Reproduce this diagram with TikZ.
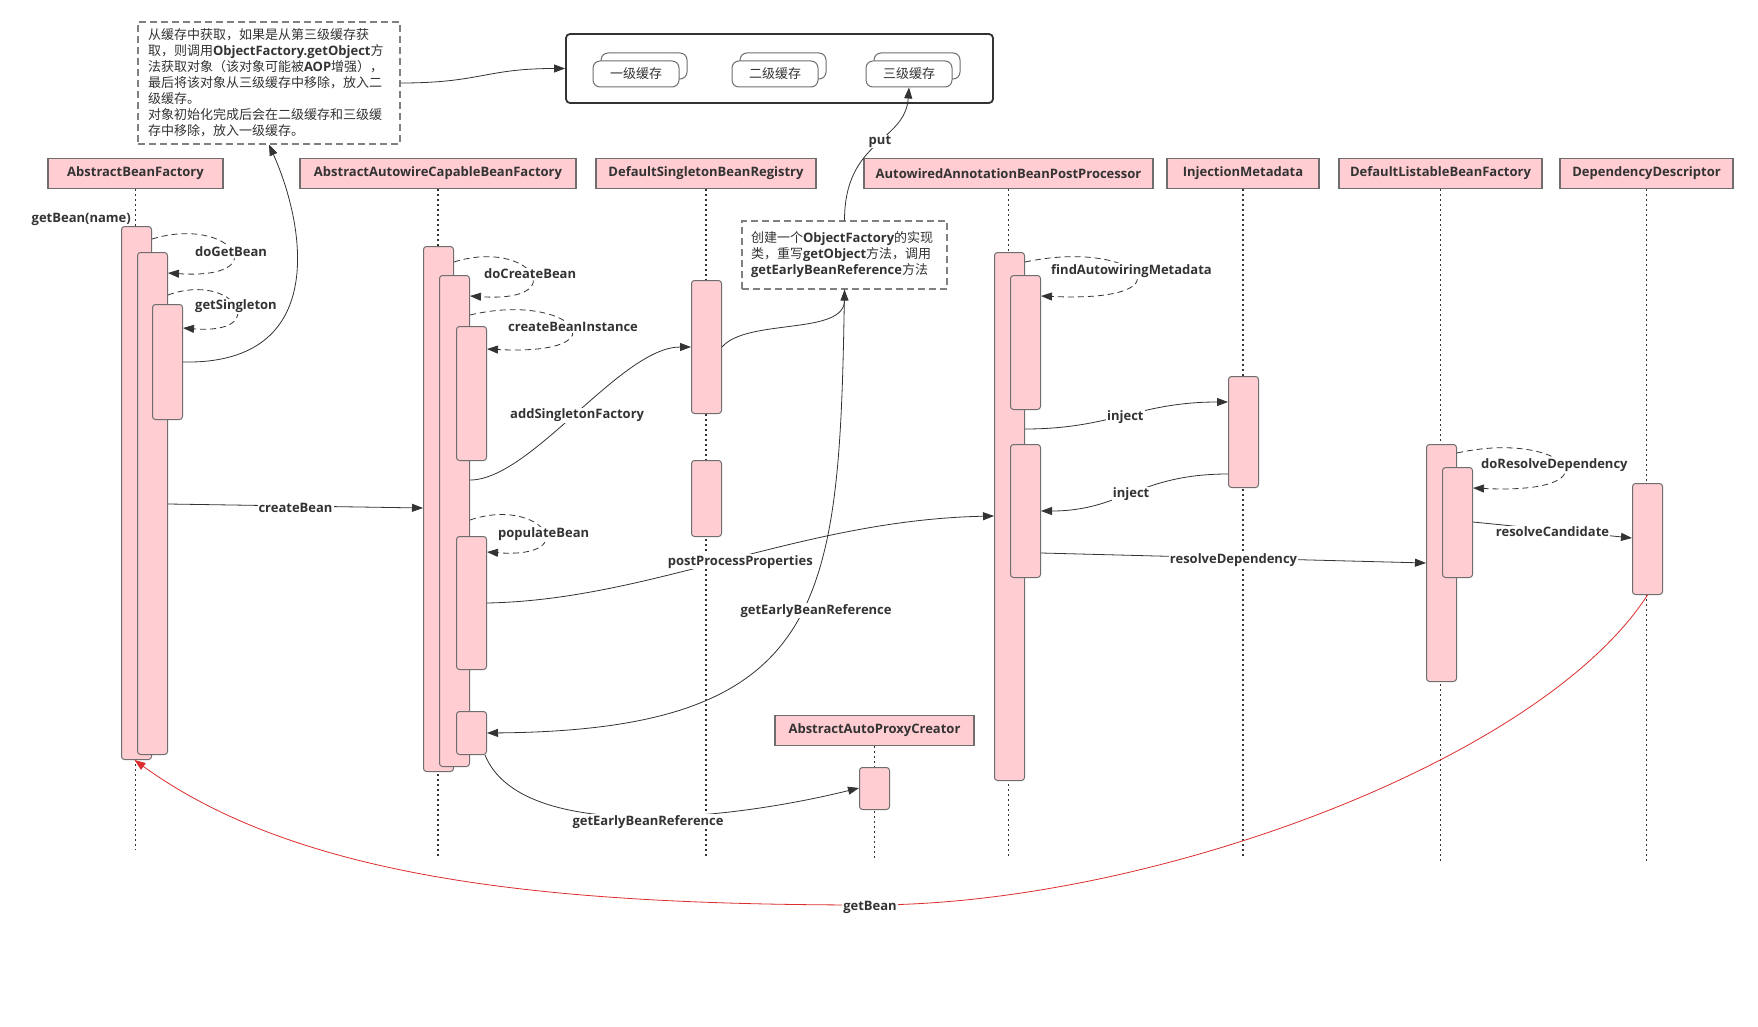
\documentclass[tikz,border=0pt]{standalone}
\usepackage{fontspec}
\setmainfont{Open Sans}
\newfontfamily\cjk{Noto Sans CJK SC}
\usetikzlibrary{arrows.meta, positioning, calc}
\definecolor{beanpink}{RGB}{255,205,210}
\definecolor{inkgray}{RGB}{51,51,51}
\definecolor{edgegray}{RGB}{110,110,110}
\definecolor{notegray}{RGB}{128,128,128}
\definecolor{callred}{RGB}{222,45,45}

\begin{document}
\begin{tikzpicture}[x=1pt, y=-1pt,
  head/.style={rectangle, draw=edgegray, fill=beanpink, line width=1.2pt, text=inkgray,
               font=\bfseries\fontsize{13}{15}\selectfont, minimum height=30pt, inner sep=0pt},
  act/.style={rectangle, draw=edgegray, fill=beanpink, rounded corners=3pt, line width=1pt,
              minimum width=30pt, inner sep=0pt, anchor=north west},
  life/.style={inkgray, line width=1.9pt, dash pattern=on 2pt off 3pt},
  msg/.style={-{Triangle[length=11pt,width=8pt]}, inkgray, line width=0.8pt},
  selfcall/.style={msg, dash pattern=on 6pt off 4pt},
  lbl/.style={font=\bfseries\fontsize{13}{15}\selectfont, text=inkgray, fill=white, inner sep=1pt,
              yshift=-2pt},
  note/.style={draw=notegray, line width=1.2pt, dash pattern=on 7pt off 4pt, text=inkgray,
               font=\fontsize{13}{16}\selectfont, align=left, inner sep=0pt},
  cache/.style={draw=edgegray, fill=white, rounded corners=7pt, line width=1pt,
                minimum width=86pt, minimum height=26pt, text=inkgray,
                font=\cjk\fontsize{13}{15}\selectfont},
]
  \useasboundingbox (0,0) rectangle (1758,1027);
  \fill[white] (0,0) rectangle (1758,1027);

  % notes
  \node[note, minimum width=262pt, minimum height=122pt, text width=242pt] (note1) at (269,83)
    {{\cjk 从缓存中获取，如果是从第三级缓存获}\\
     {\cjk 取，则调用}\textbf{ObjectFactory.getObject}{\cjk 方}\\
     {\cjk 法获取对象（该对象可能被}\textbf{AOP}{\cjk 增强），}\\
     {\cjk 最后将该对象从三级缓存中移除，放入二}\\
     {\cjk 级缓存。}\\
     {\cjk 对象初始化完成后会在二级缓存和三级缓}\\
     {\cjk 存中移除，放入一级缓存。}};
  \node[note, minimum width=205pt, minimum height=68pt, text width=187pt] (note2) at (844.5,255)
    {{\cjk 创建一个}\textbf{ObjectFactory}{\cjk 的实现}\\
     {\cjk 类，重写}\textbf{getObject}{\cjk 方法，调用}\\
     \textbf{getEarlyBeanReference}{\cjk 方法}};

  % three caches
  \node[draw=inkgray, line width=1.8pt, rounded corners=4pt, minimum width=427pt,
        minimum height=69pt] (cache) at (779.5,68.5) {};
  \node[cache] (l1b) at (644,66) {};
  \node[cache] (l1) at (636,74) {一级缓存};
  \node[cache] (l2b) at (783,66) {};
  \node[cache] (l2) at (775,74) {二级缓存};
  \node[cache] (l3b) at (917,66) {};
  \node[cache] (l3) at (909,74) {三级缓存};

  % lifelines
  \node[head, minimum width=175pt] (abf) at (135.5,173.5) {AbstractBeanFactory};
  \node[head, minimum width=276pt] (aacbf) at (438,173.5) {AbstractAutowireCapableBeanFactory};
  \node[head, minimum width=220pt] (dsbr) at (706,173.5) {DefaultSingletonBeanRegistry};
  \node[head, minimum width=289pt] (abpp) at (1008.5,173.5) {AutowiredAnnotationBeanPostProcessor};
  \node[head, minimum width=152pt] (im) at (1243,173.5) {InjectionMetadata};
  \node[head, minimum width=203pt] (dlbf) at (1440.5,173.5) {DefaultListableBeanFactory};
  \node[head, minimum width=173pt] (dd) at (1646.5,173.5) {DependencyDescriptor};
  \node[head, minimum width=199pt] (aapc) at (874.5,730.5) {AbstractAutoProxyCreator};
  \foreach \who/\len in {abf/660.5, aacbf/668.5, dsbr/668.5, abpp/668.5, im/668.5,
                         dlbf/674.5, dd/674.5, aapc/112.5}
    \draw[life] (\who.south) -- ++(0,\len);

  % activations
  \node[act, minimum height=533pt] (a1) at (121,226) {};
  \node[act, minimum height=502pt] (a2) at (137,252) {};
  \node[act, minimum height=115pt] (a3) at (152,304) {};
  \node[act, minimum height=525pt] (b1) at (423,246) {};
  \node[act, minimum height=491pt] (b2) at (439,275) {};
  \node[act, minimum height=134pt] (b3) at (456,326) {};
  \node[act, minimum height=133pt] (b4) at (456,536) {};
  \node[act, minimum height=43pt] (b5) at (456,711) {};
  \node[act, minimum height=133pt] (c1) at (691,280) {};
  \node[act, minimum height=76pt] (c2) at (691,460) {};
  \node[act, minimum height=42pt] (p1) at (859,767) {};
  \node[act, minimum height=528pt] (d1) at (994,252) {};
  \node[act, minimum height=134pt] (d2) at (1010,275) {};
  \node[act, minimum height=133pt] (d3) at (1010,444) {};
  \node[act, minimum height=111pt] (e1) at (1228,376) {};
  \node[act, minimum height=237pt] (f1) at (1426,444) {};
  \node[act, minimum height=110pt] (f2) at (1442,467) {};
  \node[act, minimum height=111pt] (g1) at (1632,483) {};

  % self calls
  \node[lbl, anchor=east] (getname) at (132,217) {getBean(name)};
  \draw[selfcall] ($(a1.north east)+(0,13)$) .. controls +(79,-24) and +(109,7) .. ($(a2.north east)+(0,21)$);
  \node[lbl, anchor=west] (dogetbean) at (194,250) {doGetBean};
  \draw[selfcall] ($(a2.north east)+(0,43)$) .. controls +(66,-24) and +(90,7) .. ($(a3.north east)+(0,24)$);
  \node[lbl, anchor=west] (getsingleton) at (194,304) {getSingleton};
  \draw[selfcall] ($(b1.north east)+(0,16)$) .. controls +(76,-24) and +(104,7) .. ($(b2.north east)+(0,21)$);
  \node[lbl, anchor=west] (docreate) at (483,272) {doCreateBean};
  \draw[selfcall] ($(b2.north east)+(0,40)$) .. controls +(101,-24) and +(140,7) .. ($(b3.north east)+(0,23)$);
  \node[lbl, anchor=west] (createinst) at (507,325) {createBeanInstance};
  \draw[selfcall] ($(b2.north east)+(0,245)$) .. controls +(71,-24) and +(98,7) .. ($(b4.north east)+(0,16)$);
  \node[lbl, anchor=west] (populate) at (497,532) {populateBean};
  \draw[selfcall] ($(d1.north east)+(0,10)$) .. controls +(113,-24) and +(155,7) .. ($(d2.north east)+(0,21)$);
  \node[lbl, anchor=west] (findmeta) at (1050,269) {findAutowiringMetadata};
  \draw[selfcall] ($(f1.north east)+(0,9)$) .. controls +(108,-24) and +(149,7) .. ($(f2.north east)+(0,21)$);
  \node[lbl, anchor=west] (doresolve) at (1480,463) {doResolveDependency};

  % calls
  \draw[msg] (note1.east) .. controls +(80,0) and +(-80,0) .. (cache.west);
  \draw[msg] (note2.north) .. controls +(0,-81) and +(-4,55) .. node[lbl, pos=0.55]{put} (l3.south);
  \draw[msg] ($(a3.north east)+(0,58)$) .. controls (330,365) and (305,225) .. (note1.south);
  \draw[msg] ($(a2.north east)+(0,252)$) -- node[lbl]{createBean} ($(b1.north west)+(0,262)$);
  \draw[msg] ($(b2.north east)+(0,205)$) .. controls +(61,0) and +(-70,0)
    .. node[lbl]{addSingletonFactory} ($(c1.north west)+(0,67)$);
  \draw[msg] ($(c1.north east)+(0,67)$) .. controls +(25,-29) and +(0,46) .. (note2.south);
  \draw[msg] (note2.south) .. controls +(-5,311) and +(344,-3)
    .. node[lbl, pos=0.46, xshift=13pt]{getEarlyBeanReference} ($(b5.north east)+(0,22)$);
  \draw[msg] ($(b4.north east)+(0,67)$) .. controls +(164,-3) and +(-194,4)
    .. node[lbl, xshift=11pt]{postProcessProperties} ($(d1.north west)+(0,264)$);
  \draw[msg] ($(d1.north east)+(0,177)$) .. controls +(86,0) and +(-89,0) .. node[lbl]{inject} ($(e1.north west)+(0,26)$);
  \draw[msg] ($(e1.north west)+(0,98)$) .. controls +(-89,0) and +(80,0) .. node[lbl]{inject} ($(d3.north east)+(0,67)$);
  \draw[msg] ($(d3.north east)+(0,109)$) -- node[lbl]{resolveDependency} ($(f1.north west)+(0,119)$);
  \draw[msg] ($(f2.north east)+(0,55)$) -- node[lbl]{resolveCandidate} ($(g1.north west)+(0,55)$);
  \draw[msg] ($(b5.south east)+(-2,0)$) .. controls +(35,86) and +(-138,34)
    .. node[lbl, pos=0.52, xshift=6pt, yshift=-3pt]{getEarlyBeanReference} ($(p1.north west)+(0,21)$);
  \draw[msg, callred] (g1.south) .. controls +(-107,166) and +(280,0) .. (870,905) node[lbl]{getBean}
    .. controls +(-320,0) and +(166,120) .. ($(a1.south)+(-2,0)$);
\end{tikzpicture}
\end{document}
